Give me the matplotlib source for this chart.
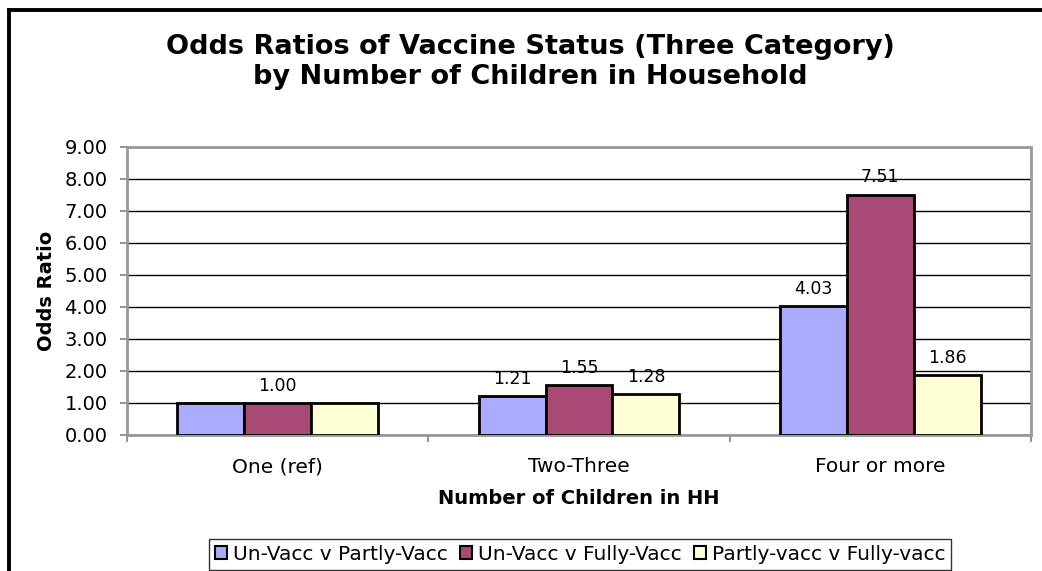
import numpy as np
import matplotlib
matplotlib.use('Agg')
import matplotlib.pyplot as plt
from matplotlib.lines import Line2D

# Data
categories = ['One (ref)', 'Two-Three', 'Four or more']
series_names = ['Un-Vacc v Partly-Vacc', 'Un-Vacc v Fully-Vacc', 'Partly-vacc v Fully-vacc']
unvacc_partly = [1.00, 1.21, 4.03]
unvacc_fully = [1.00, 1.55, 7.51]
partly_fully = [1.00, 1.28, 1.86]
# which labels are shown (Excel hid the overlapping 1.00 labels)
show_label = [[False, True, True], [True, True, True], [False, True, True]]

colors = ['#AAAAFF', '#A94A76', '#FFFFD5']

plt.rcParams['font.family'] = ['DejaVu Sans']

W, H = 1042, 571
fig = plt.figure(figsize=(W / 100, H / 100), dpi=100)
fig.patch.set_facecolor('white')

# plot area in pixels: x 127..1031, y 147..435
ax = fig.add_axes([127 / W, 1 - 435 / H, (1031 - 127) / W, (435 - 147) / H])

x = np.arange(len(categories))
bar_w = 1 / 4.5  # gap width 150%
series = [unvacc_partly, unvacc_fully, partly_fully]

for i, vals in enumerate(series):
    offs = (i - 1) * bar_w
    bars = ax.bar(x + offs, vals, width=bar_w, color=colors[i], edgecolor='black',
                  linewidth=2, label=series_names[i], zorder=3)
    for j, b in enumerate(bars):
        if show_label[i][j]:
            ax.annotate(f'{vals[j]:.2f}', (b.get_x() + b.get_width() / 2, vals[j]),
                        xytext=(0, 6), textcoords='offset points',
                        ha='center', va='bottom', fontsize=12.5, zorder=4)

ax.set_xlim(-0.5, len(categories) - 0.5)
ax.set_ylim(0, 9)
ax.set_yticks(np.arange(0, 10, 1))
ax.set_yticklabels([f'{v:.2f}' for v in np.arange(0, 10, 1)], fontsize=14)
ax.yaxis.grid(True, color='black', linewidth=1.0, zorder=0)
ax.set_axisbelow(True)

# category boundary ticks + centered labels
ax.set_xticks(np.arange(-0.5, len(categories), 1))
ax.set_xticklabels([])
ax.set_xticks(x, minor=True)
ax.set_xticklabels(categories, minor=True, fontsize=14.5)
ax.tick_params(axis='x', which='major', length=5, width=1.2, color='#808080', direction='out')
ax.tick_params(axis='x', which='minor', length=0, pad=16)
ax.tick_params(axis='y', length=5, width=1.2, color='#808080', direction='out', pad=9)

for s in ax.spines.values():
    s.set_color('#999999')
    s.set_linewidth(2)

ax.set_xlabel('Number of Children in HH', fontsize=14, fontweight='bold', labelpad=9)
ax.set_ylabel('Odds Ratio', fontsize=14, fontweight='bold', labelpad=6)

fig.text(530 / W, 1 - 62 / H, 'Odds Ratios of Vaccine Status (Three Category)\nby Number of Children in Household',
         ha='center', va='center', fontsize=19.5, fontweight='bold', linespacing=1.25)

leg = fig.legend(loc='lower center', bbox_to_anchor=(580 / W, 1 / H), ncol=3, fontsize=14.5,
                 frameon=True, fancybox=False, edgecolor='black', handlelength=0.6,
                 handleheight=0.6, handletextpad=0.3, columnspacing=0.6,
                 borderpad=0.3, borderaxespad=0)
leg.get_frame().set_linewidth(1.0)
for p in leg.get_patches():
    p.set_linewidth(1.5)

# outer chart border (top and left visible)
fig.add_artist(Line2D([9 / W, 9 / W], [0, 1 - 9.5 / H], transform=fig.transFigure,
                      color='black', linewidth=2.8, solid_capstyle='projecting'))
fig.add_artist(Line2D([9 / W, 1], [1 - 9.5 / H, 1 - 9.5 / H], transform=fig.transFigure,
                      color='black', linewidth=2.8, solid_capstyle='projecting'))

fig.savefig('out.png', dpi=100)
